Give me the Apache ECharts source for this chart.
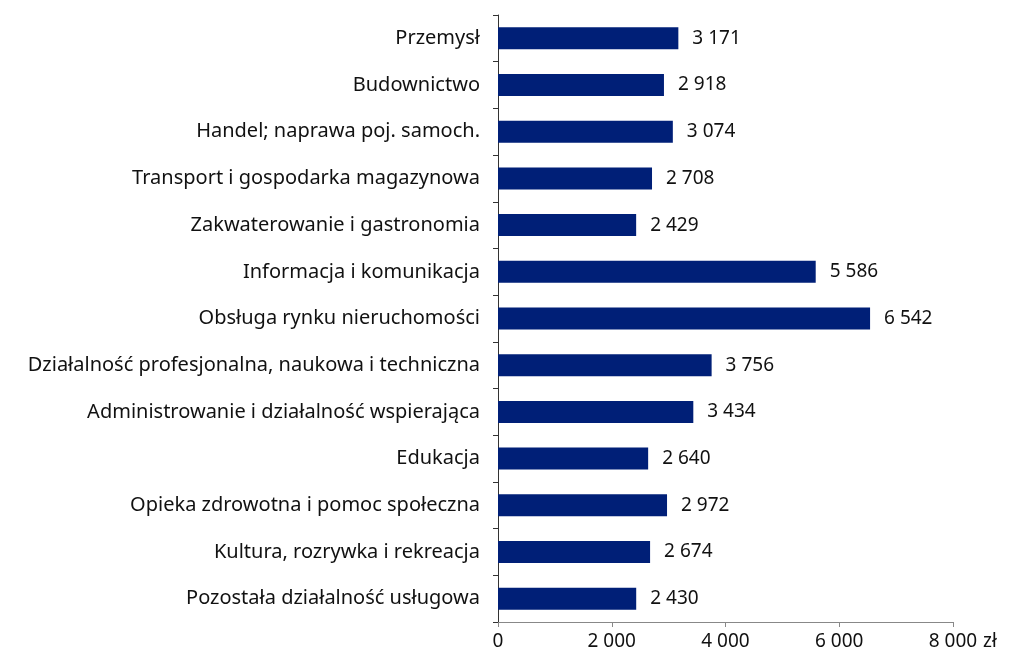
<!DOCTYPE html>
<html>
<head>
<meta charset="utf-8">
<script src="https://cdn.jsdelivr.net/npm/echarts@6/dist/echarts.min.js"></script>
<style>
  html, body { margin: 0; padding: 0; background: #fff; }
  #main { width: 1036px; height: 657px; }
</style>
</head>
<body>
<div id="main"></div>
<script>
// categories top to bottom
const categories = [
  'Przemysł',
  'Budownictwo',
  'Handel; naprawa poj. samoch.',
  'Transport i gospodarka magazynowa',
  'Zakwaterowanie i gastronomia',
  'Informacja i komunikacja',
  'Obsługa rynku nieruchomości',
  'Działalność profesjonalna, naukowa i techniczna',
  'Administrowanie i działalność wspierająca',
  'Edukacja',
  'Opieka zdrowotna i pomoc społeczna',
  'Kultura, rozrywka i rekreacja',
  'Pozostała działalność usługowa'
];
const values = [3171, 2918, 3074, 2708, 2429, 5586, 6542, 3756, 3434, 2640, 2972, 2674, 2430];
const unit = 'zł';

const fmt = v => String(v).replace(/\B(?=(\d{3})+(?!\d))/g, ' ');

var mychart = echarts.init(document.getElementById('main'));
const font = 'Noto Sans';

const option = {
  animation: false,
  grid: {
    left: 498,
    right: 83,
    top: 15,
    bottom: 35,
    containLabel: false
  },
  xAxis: {
    type: 'value',
    min: 0,
    max: 8000,
    interval: 2000,
    name: unit,
    nameLocation: 'end',
    nameGap: 30,
    nameTextStyle: {
      color: '#111',
      fontFamily: font,
      fontSize: 19,
      verticalAlign: 'top',
      padding: [10, 0, 0, 0]
    },
    axisLine: { show: true, lineStyle: { color: '#888' } },
    axisTick: { show: true, length: 5, lineStyle: { color: '#888' } },
    splitLine: { show: false },
    axisLabel: {
      color: '#111',
      fontFamily: font,
      fontSize: 19,
      margin: 10,
      formatter: v => fmt(v)
    }
  },
  yAxis: {
    type: 'category',
    data: categories,
    inverse: true,
    axisLine: { show: true, lineStyle: { color: '#333' } },
    axisTick: { show: true, length: 5, lineStyle: { color: '#333' } },
    axisLabel: {
      color: '#111',
      fontFamily: font,
      fontSize: 20,
      margin: 18
    }
  },
  series: [{
    type: 'bar',
    data: values,
    barWidth: 22,
    itemStyle: { color: '#001f77' },
    label: {
      show: true,
      position: 'right',
      distance: 14,
      color: '#111',
      fontFamily: font,
      fontSize: 19,
      formatter: p => fmt(p.value)
    }
  }]
};
mychart.setOption(option);
</script>
</body>
</html>
